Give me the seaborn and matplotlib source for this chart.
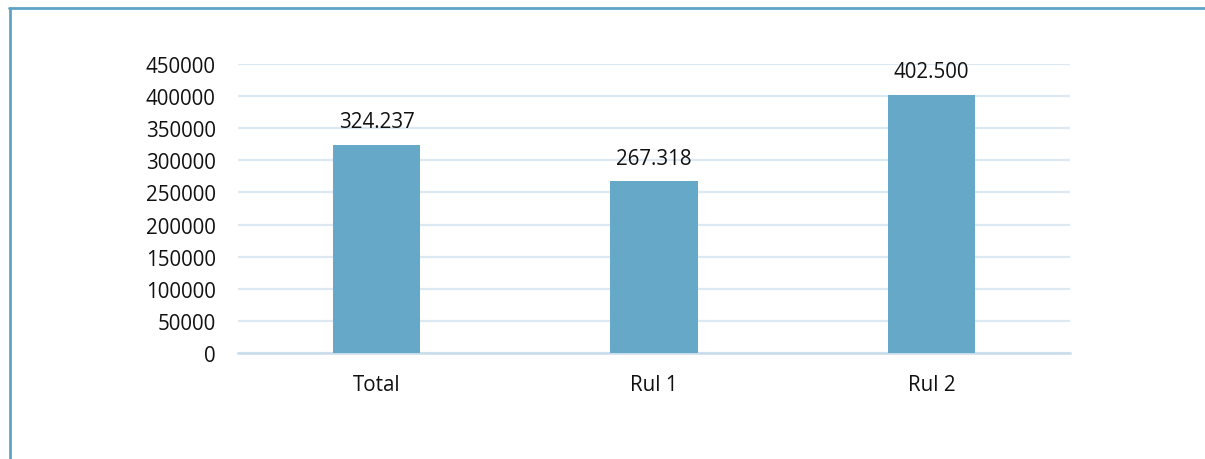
import matplotlib
matplotlib.use("Agg")
import matplotlib.pyplot as plt
from matplotlib.lines import Line2D
import seaborn as sns
import pandas as pd

categories = ["Total", "Rul 1", "Rul 2"]
values = [324237, 267318, 402500]
value_labels = ["324.237", "267.318", "402.500"]
y_ticks = [0, 50000, 100000, 150000, 200000, 250000, 300000, 350000, 400000, 450000]

sns.set_theme(style="white")
plt.rcParams["font.family"] = ["Open Sans", "DejaVu Sans"]

bar_color = "#65a8c8"
grid_color = "#dce9f3"
frame_color = "#5fa4c6"
text_color = "#111111"

df = pd.DataFrame({"cat": categories, "val": values})

fig = plt.figure(figsize=(12.05, 4.6), dpi=100)
ax = fig.add_axes([238 / 1205, 1 - 354 / 460, (1070 - 238) / 1205, (354 - 65) / 460])

sns.barplot(data=df, x="cat", y="val", color=bar_color, width=0.314,
            saturation=1, linewidth=0, ax=ax, zorder=3)

ax.set_ylim(0, 450000)
ax.set_xlim(-0.5, 2.5)
ax.set_yticks(y_ticks)
ax.set_yticklabels([str(t) for t in y_ticks])
ax.yaxis.grid(True, color=grid_color, linewidth=1.6, zorder=0)
ax.set_axisbelow(True)
for s in ["top", "right", "left"]:
    ax.spines[s].set_visible(False)
ax.spines["bottom"].set_color("#c9dcea")
ax.spines["bottom"].set_linewidth(1.8)
ax.tick_params(axis="both", length=0, labelsize=14.8, colors=text_color)
ax.tick_params(axis="y", pad=16)
ax.tick_params(axis="x", pad=15)
ax.set_xlabel("")
ax.set_ylabel("")

for i, (v, lab) in enumerate(zip(values, value_labels)):
    ax.annotate(lab, (i, v), xytext=(0, 9), textcoords="offset points",
                ha="center", va="bottom", fontsize=14.8, color=text_color)

# outer frame: top and left edges
fig.add_artist(Line2D([9 / 1205, 1.0], [1 - 8.5 / 460, 1 - 8.5 / 460],
                      transform=fig.transFigure, color=frame_color, linewidth=2))
fig.add_artist(Line2D([10 / 1205, 10 / 1205], [0.0, 1 - 8.5 / 460],
                      transform=fig.transFigure, color=frame_color, linewidth=2))

fig.savefig("out.png", dpi=100)
